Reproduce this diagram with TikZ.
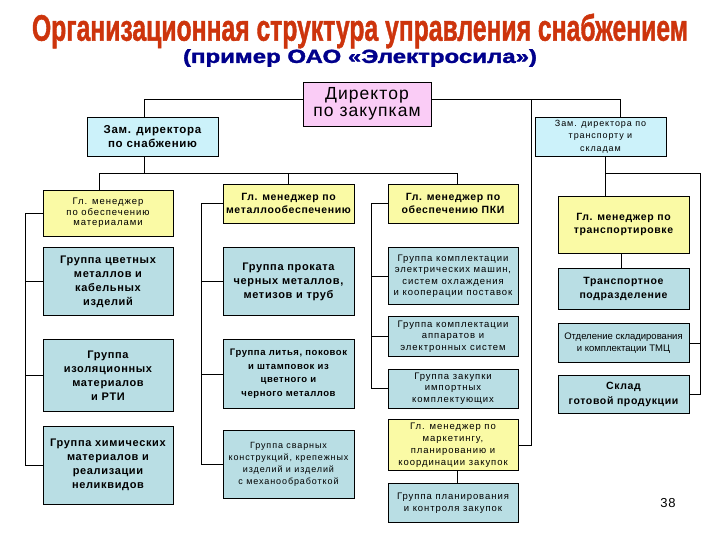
\documentclass[tikz,border=0pt]{standalone}
\usepackage{fontspec}
\setmainfont{Liberation Sans}[LetterSpace=6]
\newfontfamily\smallfont{Liberation Sans}[LetterSpace=10]
\newfontfamily\headfont{Liberation Sans}[BoldFeatures={FakeBold=1.5}]
\usepackage{xcolor}
\usepackage{graphicx}
\usepackage{tikz}
\usetikzlibrary{positioning, calc}
\definecolor{titlered}{RGB}{205,52,12}
\definecolor{subnavy}{RGB}{0,0,140}
\definecolor{dirpink}{RGB}{250,204,246}
\definecolor{depcyan}{RGB}{204,242,250}
\definecolor{mgryellow}{RGB}{250,250,165}
\definecolor{grpblue}{RGB}{185,222,228}

\begin{document}
\begin{tikzpicture}[
    x=1pt, y=1pt,
    box/.style={rectangle, draw, line width=0.7pt, inner sep=1pt, align=center},
    dirbox/.style={box, fill=dirpink, minimum width=128pt, minimum height=44pt, font=\fontsize{17.5}{16.5}\selectfont},
    depbox/.style={box, fill=depcyan, minimum width=131pt, minimum height=39pt},
    mgr/.style={box, fill=mgryellow, minimum width=130pt},
    grp/.style={box, fill=grpblue, minimum width=130pt},
    boldtxt/.style={font=\fontsize{11}{14}\selectfont\bfseries},
    midtxt/.style={font=\fontsize{10.5}{13.5}\selectfont\bfseries},
    plaintxt/.style={font=\smallfont\fontsize{9.5}{11.5}\selectfont},
    link/.style={line width=0.8pt},
]
\fill[white] (0,0) rectangle (720,-540);

\node[text=titlered, font=\headfont\bfseries\fontsize{36}{36}\selectfont] (title) at (360,-31)
    {\resizebox{656pt}{27pt}{Организационная структура управления снабжением}};
\node[text=subnavy, font=\headfont\bfseries\fontsize{19}{19}\selectfont] (subtitle) at (360,-58)
    {\resizebox{354pt}{\height}{(пример ОАО «Электросила»)}};

\node[dirbox] (dir) at (367,-104) {Директор\\по закупкам};
\node[depbox, font=\fontsize{11.5}{14}\selectfont\bfseries] (zs) at (152.5,-136.5) {Зам. директора\\по снабжению};
\node[depbox, font=\smallfont\fontsize{9}{12.5}\selectfont] (zt) at (600.5,-136.5) {Зам. директора по\\транспорту и\\складам};

\node[mgr, minimum height=46pt, font=\smallfont\fontsize{9.5}{10.5}\selectfont] (M1) at (108,-213) {Гл. менеджер\\по обеспечению\\материалами};
\node[grp, boldtxt, minimum height=68pt, below=11pt of M1] (G11) {Группа цветных\\металлов и\\кабельных\\изделий};
\node[grp, boldtxt, minimum height=72pt, below=23pt of G11] (G12) {Группа\\изоляционных\\материалов\\и РТИ};
\node[grp, boldtxt, minimum height=78pt, below=14pt of G12] (G13) {Группа химических\\материалов и\\реализации\\неликвидов};

\node[mgr, midtxt, minimum width=131pt, minimum height=39pt] (M2) at (288.5,-203.5) {Гл. менеджер по\\металлообеспечению};
\node[grp, boldtxt, minimum width=131pt, minimum height=68pt, below=24pt of M2] (G21) {Группа проката\\черных металлов,\\метизов и труб};
\node[grp, minimum width=131pt, minimum height=69pt, below=23pt of G21, font=\fontsize{9.5}{13.5}\selectfont\bfseries] (G22) {Группа литья, поковок\\и штамповок из\\цветного и\\черного металлов};
\node[grp, minimum width=131pt, minimum height=68pt, below=21pt of G22, font=\smallfont\fontsize{9}{12}\selectfont] (G23) {Группа сварных\\конструкций, крепежных\\изделий и изделий\\с механообработкой};

\node[mgr, midtxt, minimum height=39pt] (M3) at (453,-203.5) {Гл. менеджер по\\обеспечению ПКИ};
\node[grp, plaintxt, minimum height=57pt, below=24pt of M3] (G31) {Группа комплектации\\электрических машин,\\систем охлаждения\\и кооперации поставок};
\node[grp, plaintxt, minimum height=40pt, below=11pt of G31] (G32) {Группа комплектации\\аппаратов и\\электронных систем};
\node[grp, plaintxt, minimum height=39pt, below=12pt of G32] (G33) {Группа закупки\\импортных\\комплектующих};
\node[mgr, minimum height=51pt, below=11pt of G33, font=\smallfont\fontsize{9.5}{12}\selectfont] (M4) {Гл. менеджер по\\маркетингу,\\планированию и\\координации закупок};
\node[grp, minimum height=39pt, below=12pt of M4, font=\smallfont\fontsize{9.5}{12.5}\selectfont] (G34) {Группа планирования\\и контроля закупок};

\node[mgr, midtxt, minimum width=131pt, minimum height=57pt] (M5) at (623.5,-224.5) {Гл. менеджер по\\транспортировке};
\node[grp, minimum width=131pt, minimum height=41pt, below=15pt of M5, font=\fontsize{10.5}{14}\selectfont\bfseries] (G41) {Транспортное\\подразделение};
\node[grp, minimum width=131pt, minimum height=39pt, below=13pt of G41, font=\headfont\fontsize{9.5}{12}\selectfont] (G42) {Отделение складирования\\и комплектации ТМЦ};
\node[grp, minimum width=131pt, minimum height=38pt, below=12pt of G42, font=\fontsize{10.5}{15}\selectfont\bfseries] (G43) {Склад\\готовой продукции};

\node[font=\fontsize{13}{13}\selectfont] (pgnum) at (668,-503) {38};

\coordinate (jD) at ([yshift=5pt]dir.east);
\draw[link] ([yshift=5pt]dir.west) -| ([xshift=-8pt]zs.north);
\draw[link] (jD) -| ([xshift=20pt]zt.north);

\draw[link] ([xshift=-8pt]zs.south) -- ++(0,-17) coordinate (jL);
\draw[link] ([xshift=-9pt]M1.north) |- (jL) -| ([xshift=4pt]M3.north);
\draw[link] (jL -| M2.north) -- (M2.north);

\draw[link] (M1.west) -- ++(-17,0) coordinate (c1) -- (c1 |- G13.west) -- (G13.west);
\foreach \g in {G11,G12} \draw[link] (c1 |- \g.west) -- (\g.west);

\draw[link] (M2.west) -- ++(-21,0) coordinate (c2) -- (c2 |- G23.west) -- (G23.west);
\foreach \g in {G21,G22} \draw[link] (c2 |- \g.west) -- (\g.west);

\draw[link] (M3.west) -- ++(-16,0) coordinate (c3) -- (c3 |- G33.west) -- (G33.west);
\foreach \g in {G31,G32} \draw[link] (c3 |- \g.west) -- (\g.west);

\draw[link] (M4.east) -- ++(13,0) coordinate (c4) -- (c4 |- jD);
\draw[link] ([xshift=4pt]M4.south) -- ([xshift=4pt]G34.north);

\draw[link] ([xshift=5pt]zt.south) -- ++(0,-17) coordinate (jR) -- (jR |- M5.north);
\draw[link] (jR) -- ++(95,0) coordinate (c5) -- (c5 |- G43.east) -- (G43.east);
\draw[link] (c5 |- G42.east) -- (G42.east);
\draw[link] ([xshift=-2pt]M5.south) -- ([xshift=-2pt]G41.north);
\end{tikzpicture}
\end{document}
